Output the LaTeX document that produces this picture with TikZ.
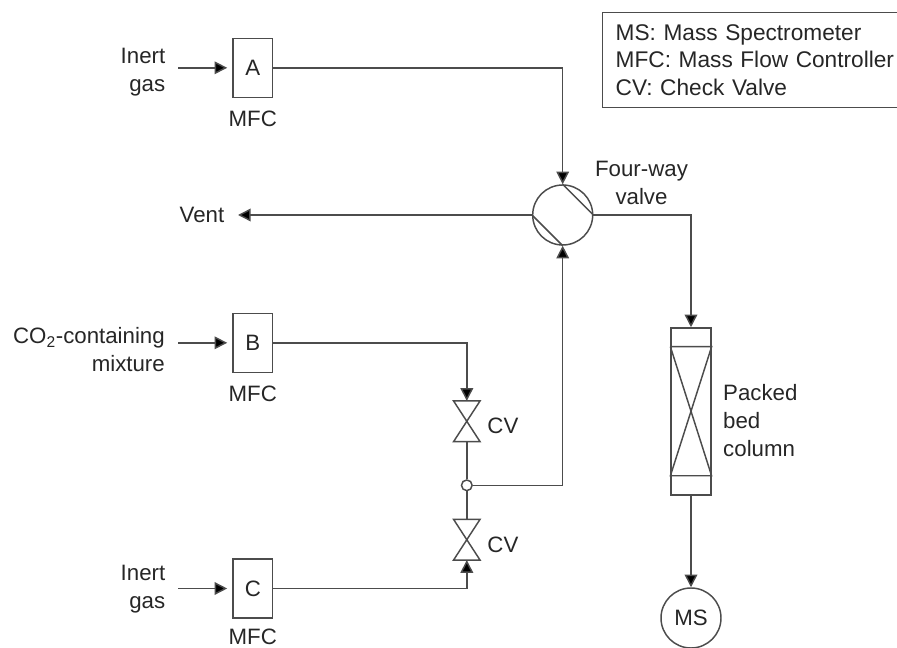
\documentclass[tikz,border=0pt]{standalone}
\usepackage{fontspec}
\setmainfont{Liberation Sans}
\usetikzlibrary{positioning,arrows.meta,calc}
\definecolor{linegray}{gray}{.3}
\newcommand{\boxletter}[1]{\raisebox{-3pt}{#1}}
\begin{document}
\begin{tikzpicture}[
  x=.75pt,y=-.75pt,
  font=\fontsize{16.7}{21}\selectfont,
  text=black!85,
  line width=1.1pt,
  mfcbox/.style={draw=linegray,fill=white,minimum width=29.8pt,minimum height=44.2pt,inner sep=0pt},
  cvbox/.style={minimum width=18.8pt,minimum height=29.5pt,inner sep=0pt},
  roundbox/.style={circle,draw=linegray,fill=white,minimum size=45pt,inner sep=0pt},
  pipe/.style={draw=linegray},
  flow/.style={draw=linegray,-{Triangle[length=9.5pt,width=9.5pt,fill=black]}},
  feed/.style={flow,shorten >=3.75pt},
  tag/.style={align=center,inner sep=0pt}]
\useasboundingbox (0,0) rectangle (897,648);
% flow controllers
\node[mfcbox] (a) at (252.8,67.8) {\boxletter{A}};
\node[mfcbox] (b) at (252.8,342.8) {\boxletter{B}};
\node[mfcbox] (c) at (252.8,588.5) {\boxletter{C}};
\node[tag,below=9pt of a] (mfca) {MFC};
\node[tag,below=9pt of b] (mfcb) {MFC};
\node[tag,below=7.5pt of c] (mfcc) {MFC};
\node[tag,align=right,anchor=east] (ina) at (166,72) {Inert\\gas};
\node[tag,align=right,anchor=east] (inb) at (165.5,350) {CO\textsubscript{2}-containing\\mixture};
\node[tag,align=right,anchor=east] (inc) at (166,589) {Inert\\gas};
\coordinate (feeda) at (178,67.8);
\coordinate (feedb) at (178,342.8);
\coordinate (feedc) at (178,588.5);
\draw[feed] (feeda) -- (a.west);
\draw[feed] (feedb) -- (b.west);
\draw[feed] (feedc) -- (c.west);
% four-way valve
\node[roundbox] (fw) at (562.7,215) {};
\draw[pipe] (fw.north) -- (fw.east);
\draw[pipe] (fw.west) -- (fw.south);
\node[tag] (fwlabel) at (641.5,183) {Four-way\\valve};
\node[tag,anchor=east] (vent) at (225,215) {Vent};
\coordinate (ventend) at (238,215);
\draw[flow] (fw.west) -- (ventend);
\draw[flow] (a.east) -| (fw.north);
% check valves
\node[cvbox] (cvb) at (466.8,421.3) {};
\node[cvbox] (cvc) at (466.8,539.7) {};
\draw[pipe] (cvb.north west) -- (cvb.north east) -- (cvb.south west) -- (cvb.south east) -- cycle;
\draw[pipe] (cvc.north west) -- (cvc.north east) -- (cvc.south west) -- (cvc.south east) -- cycle;
\node[tag,right=5pt of cvb,yshift=-3.5pt] (cvblabel) {CV};
\node[tag,right=5pt of cvc,yshift=-3.5pt] (cvclabel) {CV};
\node[circle,draw=linegray,fill=white,minimum size=8pt,inner sep=0pt] (jn) at (466.8,485.3) {};
\draw[flow] (b.east) -| (cvb.north);
\draw[flow] (c.east) -| (cvc.south);
\draw[pipe] (cvb.south) -- (jn);
\draw[pipe] (jn) -- (cvc.north);
\draw[flow] (jn.east) -| (fw.south);
% column
\node[draw=linegray,fill=white,minimum width=29.8pt,minimum height=125.3pt,inner sep=0pt] (col) at (691,411.5) {};
\coordinate (colnw) at ($(col.north west)+(0,19.5)$);
\coordinate (colne) at ($(col.north east)+(0,19.5)$);
\coordinate (colsw) at ($(col.south west)+(0,-20)$);
\coordinate (colse) at ($(col.south east)+(0,-20)$);
\draw[pipe] (colnw) -- (colne) -- (colsw) -- (colse) -- (colnw);
\draw[flow] (fw.east) -| (col.north);
\node[tag,align=left,anchor=west] (collabel) at (722.5,421) {Packed\\bed\\column};
\node[roundbox] (ms) at (691,618) {MS};
\draw[flow] (col.south) -- (ms.north);
% legend
\node[draw=linegray,align=left,anchor=north west,inner xsep=9.75pt,inner ysep=0pt,minimum height=71pt,
  text width=210pt,font=\fontsize{17}{20.6}\selectfont] (legend) at (602,12)
  {MS: Mass Spectrometer\\MFC: Mass Flow Controller\\CV: Check Valve};
\end{tikzpicture}
\end{document}
